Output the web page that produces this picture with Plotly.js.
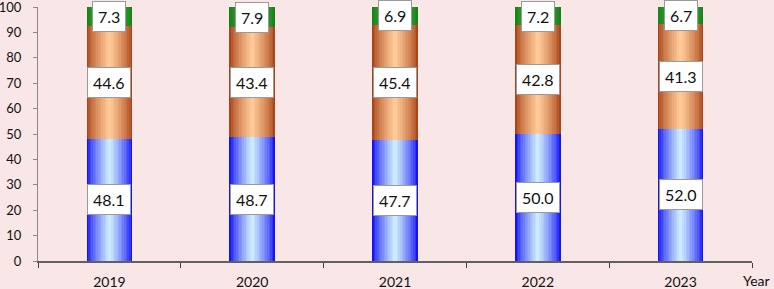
<!DOCTYPE html>
<html>
<head>
<meta charset="utf-8">
<script src="https://cdn.plot.ly/plotly-3.0.1.min.js"></script>
<style>html,body{margin:0;padding:0;background:#f9e6e6;}#chart{width:774px;height:289px;}</style>
</head>
<body>
<div id="chart"></div>
<script>
const years = ['2019', '2020', '2021', '2022', '2023'];
const seriesBlue = [48.1, 48.7, 47.7, 50.0, 52.0];
const seriesOrange = [44.6, 43.4, 45.4, 42.8, 41.3];
const seriesGreen = [7.3, 7.9, 6.9, 7.2, 6.7];
const yTicks = [0, 10, 20, 30, 40, 50, 60, 70, 80, 90, 100];

const series = [
  {vals: seriesBlue, edge: [20, 20, 245], center: [205, 235, 255]},
  {vals: seriesOrange, edge: [170, 70, 25], center: [255, 202, 152]},
  {vals: seriesGreen, edge: [25, 130, 25], center: [60, 185, 60]}
];

const W = 0.32, N = 14;
const traces = [];
const annotations = [];
let base = years.map(() => 0);
function lerp(a, b, t) { return a.map((v, i) => Math.round(v + (b[i] - v) * t)); }
series.forEach(s => {
  const b = base.slice();
  for (let k = 0; k < N; k++) {
    const t = k / (N - 1);
    const c = lerp(s.edge, s.center, Math.pow(t, 0.75));
    traces.push({
      type: 'bar', x: years, y: s.vals, base: b,
      width: W * (1 - k / N),
      marker: {color: `rgb(${c[0]},${c[1]},${c[2]})`, line: {width: 0}},
      hoverinfo: 'skip', showlegend: false
    });
  }
  s.vals.forEach((v, i) => {
    annotations.push({
      x: i, y: b[i] + v / 2, xref: 'x', yref: 'y',
      text: v.toFixed(1), showarrow: false,
      font: {family: 'Lato, sans-serif', size: 16, color: '#111'},
      bgcolor: '#ffffff', bordercolor: '#9a9a9a', borderwidth: 1, borderpad: 5
    });
  });
  base = b.map((x, i) => x + s.vals[i]);
});

annotations.push({
  x: 0.985, y: -0.078, xref: 'paper', yref: 'paper', xanchor: 'left', yanchor: 'middle',
  text: 'Year', showarrow: false,
  font: {family: 'Lato, sans-serif', size: 14, color: '#111'}
});

const layout = {
  width: 774, height: 289,
  margin: {l: 38, r: 22, t: 7, b: 28},
  paper_bgcolor: '#f9e6e6', plot_bgcolor: '#f9e6e6',
  barmode: 'overlay', bargap: 0,
  showlegend: false,
  xaxis: {
    type: 'category', range: [-0.5, 4.5],
    showline: true, linecolor: '#606060', linewidth: 1.5,
    ticks: 'outside', tickson: 'boundaries', ticklen: 5, tickcolor: '#404040',
    showgrid: false, zeroline: false,
    tickfont: {family: 'Lato, sans-serif', size: 14, color: '#111'},
    ticklabelstandoff: 8, fixedrange: true
  },
  yaxis: {
    range: [0, 100], tickvals: yTicks,
    showline: true, linecolor: '#8a8a8a', linewidth: 1,
    ticks: 'outside', ticklen: 4, tickcolor: '#8a8a8a',
    showgrid: false, zeroline: false, ticklabeloverflow: 'allow',
    tickfont: {family: 'Lato, sans-serif', size: 13, color: '#111'},
    ticklabelstandoff: 9, fixedrange: true
  },
  annotations: annotations
};

Plotly.newPlot('chart', traces, layout, {displayModeBar: false, staticPlot: true});
</script>
</body>
</html>
